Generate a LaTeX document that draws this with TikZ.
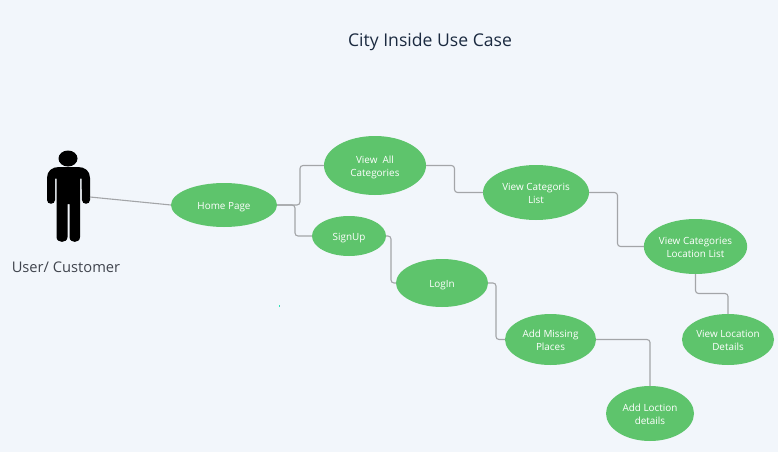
\documentclass[tikz,border=0pt]{standalone}
\usepackage{fontspec}
\setmainfont{Open Sans}
\usetikzlibrary{shapes.geometric}
\definecolor{bgc}{HTML}{F2F6FB}
\definecolor{ucgreen}{HTML}{5EC46C}
\definecolor{linkc}{HTML}{A3A5A8}
\definecolor{labelc}{HTML}{41454E}
\definecolor{titlec}{HTML}{1B2A40}
\newcommand\ucText[1]{\raisebox{-4.5pt}[0pt][0pt]{\begin{tabular}{@{}c@{}}#1\end{tabular}}}
\tikzset{
  usecase/.style={ellipse,fill=ucgreen,text=white,inner sep=0pt,outer sep=0pt,align=center,
    font=\fontsize{9.9}{13}\selectfont},
  link/.style={draw=linkc,line width=1.1pt,rounded corners=3pt},
  figure/.style={fill=black,draw=none}
}
\begin{document}
\begin{tikzpicture}[x=1pt,y=-1pt]
\useasboundingbox (0,0) rectangle (778,452);
\fill[bgc] (0,0) rectangle (778,452);
\node[font=\fontsize{17.6}{21}\selectfont,text=titlec] (title) at (430,42) {City Inside Use Case};
\node[font=\fontsize{14.7}{18}\selectfont,text=labelc] (actorlabel) at (66,267) {User/ Customer};
% actor
\fill[figure] (68,158.5) ellipse [x radius=9.5,y radius=8];
\fill[figure] (59,167) -- (78,167) .. controls (85,167) and (90,171) .. (90,178) -- (90,200)
  .. controls (90,205) and (82,205) .. (82,200) -- (81.5,178.5) -- (80,178.5) -- (80,237)
  .. controls (80,243.5) and (69.5,243.5) .. (69.5,237) -- (69.5,204) -- (67.5,204) -- (67.5,237)
  .. controls (67.5,243.5) and (56.5,243.5) .. (56.5,237) -- (56.5,178.5) -- (55,178.5) -- (55,200)
  .. controls (55,205) and (47,205) .. (47,200) -- (47,178) .. controls (47,171) and (52,167) .. (59,167) -- cycle;
\coordinate (hand) at (90,197);
% use cases
\node[usecase,minimum width=106pt,minimum height=44pt] (home) at (224,205) {\ucText{Home Page}};
\node[usecase,minimum width=102pt,minimum height=59pt] (allcat) at (375,165.5) {\ucText{View\ \ All\\Categories}};
\node[usecase,minimum width=106pt,minimum height=55pt] (catlist) at (536,192.5) {\ucText{View Categoris\\List}};
\node[usecase,minimum width=74pt,minimum height=40pt] (signup) at (349,236) {\ucText{SignUp}};
\node[usecase,minimum width=92pt,minimum height=48pt] (login) at (442,283) {\ucText{LogIn}};
\node[usecase,minimum width=99pt,minimum height=55pt] (catloc) at (695.5,246.5) {\ucText{View Categories\\Location List}};
\node[usecase,minimum width=92pt,minimum height=51pt] (locdet) at (728,339.5) {\ucText{View Location\\Details}};
\node[usecase,minimum width=91pt,minimum height=51pt] (missing) at (550.5,339.5) {\ucText{Add Missing\\Places}};
\node[usecase,minimum width=88pt,minimum height=55pt] (addloc) at (650,413.5) {\ucText{Add Loction\\details}};
% connectors
\draw[link,rounded corners=0pt] (hand) -- (home.west);
\draw[link] (home.east) -- (300,205) -- (300,165.5) -- (allcat.west);
\draw[link] (home.east) -- (295,205) -- (295,236) -- (signup.west);
\draw[link] (allcat.east) -- (454.5,165.5) -- (454.5,192.5) -- (catlist.west);
\draw[link] (catlist.east) -- (617.5,192.5) -- (617.5,246.5) -- (catloc.west);
\draw[link] (signup.east) -- (391,236) -- (391,283) -- (login.west);
\draw[link] (login.east) -- (496,283) -- (496,339.5) -- (missing.west);
\draw[link] (catloc.south) -- (695.5,293.5) -- (728,293.5) -- (locdet.north);
\draw[link] (missing.east) -- (650,339.5) -- (addloc.north);
\fill[ucgreen!50!cyan] (278.5,305.3) rectangle (280.3,307);
\end{tikzpicture}
\end{document}
